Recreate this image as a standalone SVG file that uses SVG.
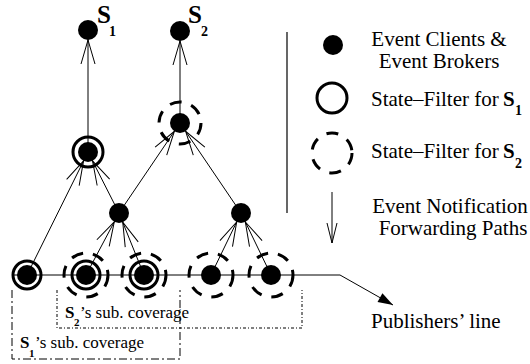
<svg xmlns="http://www.w3.org/2000/svg" width="530" height="364" viewBox="0 0 530 364">
<style>
text{font-family:"Liberation Serif","Times New Roman",Times,"DejaVu Serif",serif;fill:#000}
.t{font-size:21px}
.b{font-weight:bold}
.e{stroke:#000;stroke-width:1;fill:none}
.n{fill:#000}
.s{fill:none;stroke:#000;stroke-width:3}
.d{fill:none;stroke:#000;stroke-width:3;stroke-dasharray:12 10}
</style>
<defs>
<marker id="v" markerUnits="userSpaceOnUse" markerWidth="40" markerHeight="20" viewBox="-30 -10 40 20" refX="10" refY="0" orient="auto">
<path d="M-24,-7 L0,0 L-24,7" fill="none" stroke="#000" stroke-width="1"/>
</marker>
<marker id="f" markerUnits="userSpaceOnUse" markerWidth="20" markerHeight="14" viewBox="-16 -7 20 14" refX="0" refY="0" orient="auto">
<path d="M-15,-5 L0,0 L-15,5 Z" fill="#000"/>
</marker>
</defs>

<g id="connectors">
<line class="e" x1="27" y1="275" x2="88" y2="152" marker-end="url(#v)"/>
<line class="e" x1="119" y1="213" x2="88" y2="152" marker-end="url(#v)"/>
<line class="e" x1="119" y1="213" x2="180" y2="123" marker-end="url(#v)"/>
<line class="e" x1="241" y1="213" x2="180" y2="123" marker-end="url(#v)"/>
<line class="e" x1="86" y1="275" x2="119" y2="213" marker-end="url(#v)"/>
<line class="e" x1="144" y1="275" x2="119" y2="213" marker-end="url(#v)"/>
<line class="e" x1="211" y1="275" x2="241" y2="213" marker-end="url(#v)"/>
<line class="e" x1="271" y1="275" x2="241" y2="213" marker-end="url(#v)"/>
<line class="e" x1="88" y1="152" x2="88" y2="30" marker-end="url(#v)"/>
<line class="e" x1="180" y1="123" x2="180" y2="31" marker-end="url(#v)"/>
<polyline id="publishers-line" class="e" stroke-width="1.3" points="12,275 340,275 393,305" marker-end="url(#f)"/>
</g>

<g id="s1">
<circle class="n" cx="88" cy="30" r="10"/>
<text x="97" y="23" class="b" font-size="25">S</text>
<text x="109" y="36" class="b" font-size="14">1</text>
</g>
<g id="s2">
<circle class="n" cx="180" cy="31" r="10"/>
<text x="188" y="23" class="b" font-size="25">S</text>
<text x="201" y="36" class="b" font-size="14">2</text>
</g>
<g id="filter-s1">
<circle class="n" cx="88" cy="152" r="10"/>
<circle class="s" cx="88" cy="152" r="15"/>
</g>
<g id="filter-s2">
<circle class="n" cx="180" cy="123" r="10"/>
<circle class="d" cx="180" cy="123" r="21"/>
</g>
<g id="mid1"><circle class="n" cx="119" cy="213" r="10"/></g>
<g id="mid2"><circle class="n" cx="241" cy="213" r="10"/></g>
<g id="b1">
<circle class="n" cx="27" cy="275" r="10"/>
<circle class="s" cx="27" cy="275" r="14"/>
</g>
<g id="b2">
<circle class="n" cx="86" cy="275" r="10"/>
<circle class="s" cx="86" cy="275" r="14"/>
<circle class="d" cx="86" cy="275" r="22"/>
</g>
<g id="b3">
<circle class="n" cx="144" cy="275" r="10"/>
<circle class="s" cx="144" cy="275" r="14"/>
<circle class="d" cx="144" cy="275" r="22"/>
</g>
<g id="b4">
<circle class="n" cx="211" cy="275" r="10"/>
<circle class="d" cx="211" cy="275" r="22"/>
</g>
<g id="b5">
<circle class="n" cx="271" cy="275" r="10"/>
<circle class="d" cx="271" cy="275" r="22"/>
</g>

<g id="coverage-s2">
<path d="M57,290 V328 H302 V290" fill="none" stroke="#000" stroke-width="1" stroke-dasharray="3 2 1 2"/>
<text x="65" y="318" class="b" font-size="17">S</text>
<text x="74" y="326" class="b" font-size="11">2</text>
<text x="80" y="318" font-size="17">’s sub. coverage</text>
</g>
<g id="coverage-s1">
<path d="M12,290 V359 H180 V290" fill="none" stroke="#000" stroke-width="1" stroke-dasharray="8 3 2 3"/>
<text x="20" y="348" class="b" font-size="17">S</text>
<text x="29" y="357" class="b" font-size="11">1</text>
<text x="35" y="348" font-size="17">’s sub. coverage</text>
</g>

<g id="legend">
<line x1="287" y1="32" x2="287" y2="213" stroke="#000" stroke-width="1.2"/>
<circle class="n" cx="333" cy="45" r="10"/>
<text class="t" x="439" y="46" text-anchor="middle">Event Clients &amp;</text>
<text class="t" x="439" y="68" text-anchor="middle">Event Brokers</text>
<circle class="s" cx="332" cy="98" r="15"/>
<text class="t" x="371" y="106">State–Filter for</text>
<text x="503" y="106" class="b" font-size="21">S</text>
<text x="515" y="115" class="b" font-size="14">1</text>
<circle class="d" cx="332" cy="153" r="20"/>
<text class="t" x="371" y="158">State–Filter for</text>
<text x="503" y="158" class="b" font-size="21">S</text>
<text x="515" y="168" class="b" font-size="14">2</text>
<path d="M332,192 V243 M327,223 L332,243 L337,223" fill="none" stroke="#000" stroke-width="1"/>
<text class="t" x="450" y="213" text-anchor="middle">Event Notification</text>
<text class="t" x="453" y="235" text-anchor="middle">Forwarding Paths</text>
<text class="t" x="371" y="328">Publishers’ line</text>
</g>
</svg>
